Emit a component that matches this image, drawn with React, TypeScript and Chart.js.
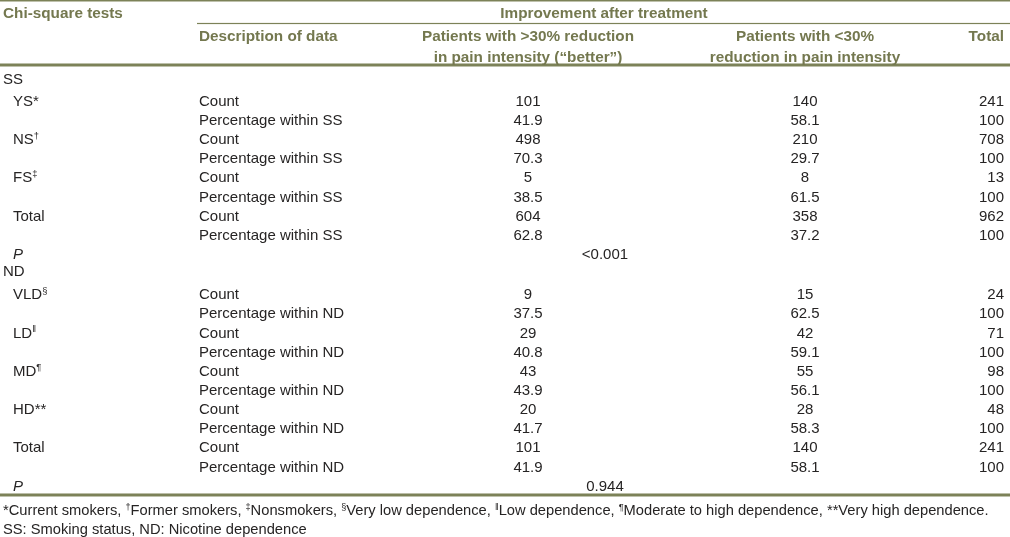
import React, { useEffect, useRef } from "react";
import { Chart, registerables } from "chart.js";
Chart.register(...registerables);

type Seg = { t: string; sup?: boolean; italic?: boolean };

// ---------- DATA ----------
const titleText = "Chi-square tests";
const groupHeader = "Improvement after treatment";
const descHeader = "Description of data";
const betterHeader = ["Patients with >30% reduction", "in pain intensity (\u201cbetter\u201d)"];
const worseHeader = ["Patients with <30%", "reduction in pain intensity"];
const totalHeader = "Total";
const countLabel = "Count";

const ssLabel = "SS";
const ssGroups: [string, string][] = [["YS*", ""], ["NS", "\u2020"], ["FS", "\u2021"], ["Total", ""]];
const ssBetterCount = [101, 498, 5, 604];
const ssBetterPct = [41.9, 70.3, 38.5, 62.8];
const ssWorseCount = [140, 210, 8, 358];
const ssWorsePct = [58.1, 29.7, 61.5, 37.2];
const ssTotalCount = [241, 708, 13, 962];
const ssTotalPct = [100, 100, 100, 100];
const ssP = "<0.001";

const ndLabel = "ND";
const ndGroups: [string, string][] = [["VLD", "\u00a7"], ["LD", "\u2016"], ["MD", "\u00b6"], ["HD**", ""], ["Total", ""]];
const ndBetterCount = [9, 29, 43, 20, 101];
const ndBetterPct = [37.5, 40.8, 43.9, 41.7, 41.9];
const ndWorseCount = [15, 42, 55, 28, 140];
const ndWorsePct = [62.5, 59.1, 56.1, 58.3, 58.1];
const ndTotalCount = [24, 71, 98, 48, 241];
const ndTotalPct = [100, 100, 100, 100, 100];
const ndP = "0.944";

const footnote1: Seg[] = [
  { t: "*Current smokers, " }, { t: "\u2020", sup: true }, { t: "Former smokers, " },
  { t: "\u2021", sup: true }, { t: "Nonsmokers, " }, { t: "\u00a7", sup: true },
  { t: "Very low dependence, " }, { t: "\u2016", sup: true }, { t: "Low dependence, " },
  { t: "\u00b6", sup: true }, { t: "Moderate to high dependence, " }, { t: "**Very high dependence." },
];
const footnote2 = "SS: Smoking status, ND: Nicotine dependence";

// ---------- LAYOUT / STYLE ----------
const FAMILY = "'Liberation Sans', Arial, sans-serif";
const BODY_COLOR = "#262424";
const HEAD_COLOR = "#74784f";
const RULE_COLOR = "#7c8258";
const BODY_SIZE = 15;
const HEAD_SIZE = 15.3;
const FOOT_SIZE = 14.7;

const COL = { label: 3, indent: 13, desc: 199, better: 528, worse: 805, total: 1004, p: 605, group: 604, subRuleStart: 197, end: 1010 };
const ROW = { title: -4.6, head1: -3.39, head2: -2.32, foot1: 21.38, foot2: 22.37 };
const RULES = [
  { y: -5.209, x0: 0, x1: 1010, w: 1.5 },
  { y: -4.021, x0: 197, x1: 1010, w: 1.2 },
  { y: -1.854, x0: 0, x1: 1010, w: 3 },
  { y: 20.6, x0: 0, x1: 1010, w: 3 },
];
const Y_MIN = -5.248;
const Y_MAX = 22.794;
const SECTIONS = [
  { headRow: -1.12, firstRow: 0 },
  { headRow: 8.9, firstRow: 10.1 },
];

type DS = {
  data: { x: number; y: number }[];
  texts: Seg[][];
  align: "left" | "center" | "right";
  size: number;
  weight: string;
  color: string;
};

function makeDS(align: DS["align"], size: number, weight: string, color: string): DS {
  return { data: [], texts: [], align, size, weight, color };
}

function buildDatasets() {
  const head = makeDS("left", HEAD_SIZE, "bold", HEAD_COLOR);
  const headC = makeDS("center", HEAD_SIZE, "bold", HEAD_COLOR);
  const headR = makeDS("right", HEAD_SIZE, "bold", HEAD_COLOR);
  const labels = makeDS("left", BODY_SIZE, "normal", BODY_COLOR);
  const desc = makeDS("left", BODY_SIZE, "normal", BODY_COLOR);
  const center = makeDS("center", BODY_SIZE, "normal", BODY_COLOR);
  const right = makeDS("right", BODY_SIZE, "normal", BODY_COLOR);
  const foot = makeDS("left", FOOT_SIZE, "normal", BODY_COLOR);

  const push = (d: DS, x: number, y: number, segs: Seg[]) => {
    d.data.push({ x, y });
    d.texts.push(segs);
  };

  push(head, COL.label, ROW.title, [{ t: titleText }]);
  push(headC, COL.group, ROW.title, [{ t: groupHeader }]);
  push(head, COL.desc, ROW.head1, [{ t: descHeader }]);
  push(headC, COL.better, ROW.head1, [{ t: betterHeader[0] }]);
  push(headC, COL.better, ROW.head2, [{ t: betterHeader[1] }]);
  push(headC, COL.worse, ROW.head1, [{ t: worseHeader[0] }]);
  push(headC, COL.worse, ROW.head2, [{ t: worseHeader[1] }]);
  push(headR, COL.total, ROW.head1, [{ t: totalHeader }]);

  const secs = [
    { label: ssLabel, groups: ssGroups, bc: ssBetterCount, bp: ssBetterPct, wc: ssWorseCount, wp: ssWorsePct, tc: ssTotalCount, tp: ssTotalPct, p: ssP, tag: "SS" },
    { label: ndLabel, groups: ndGroups, bc: ndBetterCount, bp: ndBetterPct, wc: ndWorseCount, wp: ndWorsePct, tc: ndTotalCount, tp: ndTotalPct, p: ndP, tag: "ND" },
  ];
  secs.forEach((s, si) => {
    const lay = SECTIONS[si];
    push(labels, COL.label, lay.headRow, [{ t: s.label }]);
    s.groups.forEach((g, gi) => {
      const r = lay.firstRow + gi * 2;
      const segs: Seg[] = [{ t: g[0] }];
      if (g[1]) segs.push({ t: g[1], sup: true });
      push(labels, COL.indent, r, segs);
      push(desc, COL.desc, r, [{ t: countLabel }]);
      push(desc, COL.desc, r + 1, [{ t: "Percentage within " + s.tag }]);
      push(center, COL.better, r, [{ t: String(s.bc[gi]) }]);
      push(center, COL.better, r + 1, [{ t: String(s.bp[gi]) }]);
      push(center, COL.worse, r, [{ t: String(s.wc[gi]) }]);
      push(center, COL.worse, r + 1, [{ t: String(s.wp[gi]) }]);
      push(right, COL.total, r, [{ t: String(s.tc[gi]) }]);
      push(right, COL.total, r + 1, [{ t: String(s.tp[gi]) }]);
    });
    const pr = lay.firstRow + s.groups.length * 2;
    push(labels, COL.indent, pr, [{ t: "P", italic: true }]);
    push(center, COL.p, pr, [{ t: s.p }]);
  });

  push(foot, COL.label, ROW.foot1, footnote1);
  push(foot, COL.label, ROW.foot2, [{ t: footnote2 }]);

  return [head, headC, headR, labels, desc, center, right, foot];
}

function drawSegs(ctx: CanvasRenderingContext2D, segs: Seg[], x: number, baseline: number, align: string, size: number, weight: string, color: string) {
  const fontFor = (s: Seg) => `${s.italic ? "italic " : ""}${weight} ${s.sup ? size * 0.62 : size}px ${FAMILY}`;
  let total = 0;
  for (const s of segs) {
    ctx.font = fontFor(s);
    total += ctx.measureText(s.t).width;
  }
  let cx = align === "left" ? x : align === "right" ? x - total : x - total / 2;
  ctx.fillStyle = color;
  ctx.textAlign = "left";
  ctx.textBaseline = "alphabetic";
  for (const s of segs) {
    ctx.font = fontFor(s);
    ctx.fillText(s.t, cx, s.sup ? baseline - size * 0.36 : baseline);
    cx += ctx.measureText(s.t).width;
  }
}

const tablePlugin = {
  id: "tableText",
  afterDatasetsDraw(chart: any) {
    const ctx: CanvasRenderingContext2D = chart.ctx;
    const xs = chart.scales.x;
    const ys = chart.scales.y;
    ctx.save();
    ctx.fillStyle = RULE_COLOR;
    for (const r of RULES) {
      const y = ys.getPixelForValue(r.y);
      const x0 = xs.getPixelForValue(r.x0);
      const x1 = xs.getPixelForValue(r.x1);
      ctx.fillRect(x0, y - r.w / 2, x1 - x0, r.w);
    }
    chart.data.datasets.forEach((ds: any, i: number) => {
      const meta = chart.getDatasetMeta(i);
      meta.data.forEach((el: any, j: number) => {
        drawSegs(ctx, ds.texts[j], el.x, el.y + ds.size * 0.358, ds.align, ds.size, ds.weight, ds.color);
      });
    });
    ctx.restore();
  },
};

export default function App() {
  const ref = useRef<HTMLCanvasElement | null>(null);
  useEffect(() => {
    document.body.style.margin = "0";
    document.body.style.background = "#ffffff";
    if (!ref.current) return;
    const datasets = buildDatasets().map((d) => ({
      ...d,
      pointRadius: 0,
      pointHoverRadius: 0,
      showLine: false,
      borderWidth: 0,
    }));
    const chart = new Chart(ref.current, {
      type: "scatter",
      data: { datasets: datasets as any },
      options: {
        animation: false,
        responsive: false,
        events: [],
        layout: { padding: 0 },
        plugins: { legend: { display: false }, tooltip: { enabled: false } },
        scales: {
          x: { type: "linear", min: 0, max: 1010, display: false },
          y: { type: "linear", min: Y_MIN, max: Y_MAX, reverse: true, display: false },
        },
      },
      plugins: [tablePlugin],
    });
    return () => chart.destroy();
  }, []);
  return (
    <div style={{ width: 1010, height: 537, background: "#fff" }}>
      <canvas ref={ref} width={1010} height={537} style={{ display: "block" }} />
    </div>
  );
}
